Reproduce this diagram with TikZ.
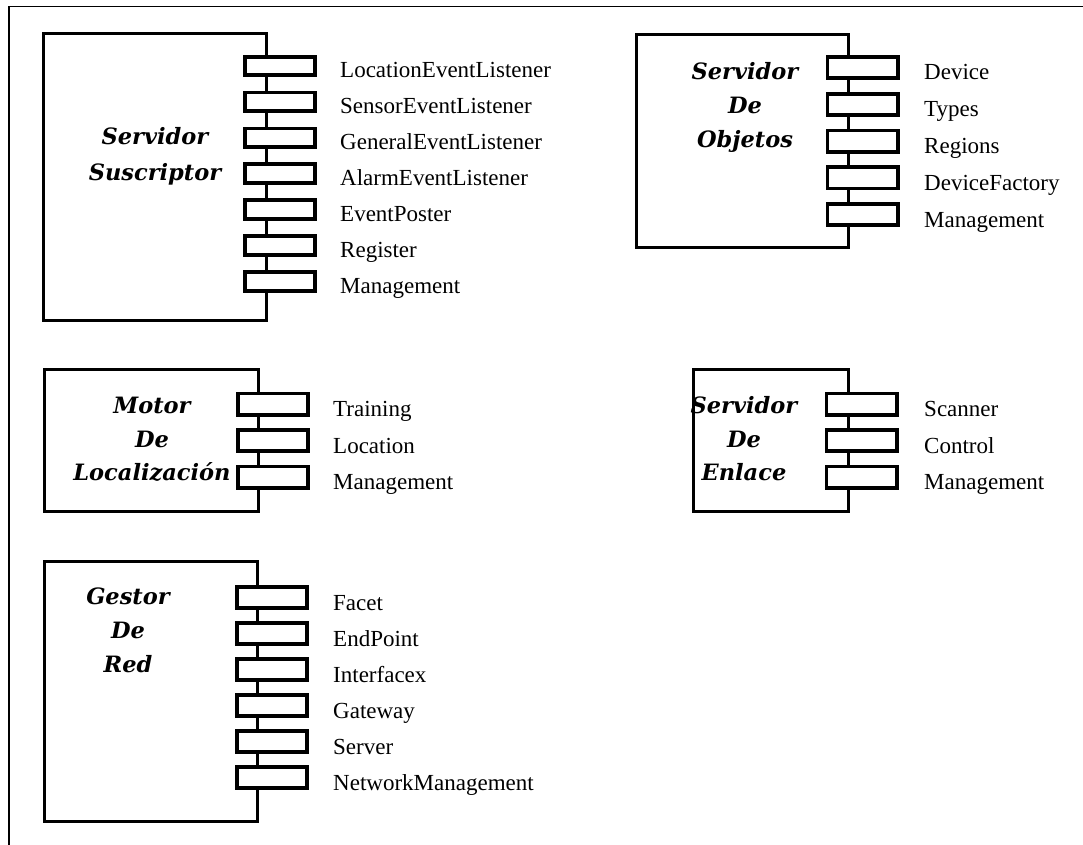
\documentclass[tikz,border=0pt]{standalone}
\usepackage{fontspec}
\setmainfont{Liberation Serif}
\newfontfamily\headfont{DejaVu Serif}
\tikzset{
  frameline/.style={line width=1.8pt},
  compbox/.style={draw, line width=3.8pt, inner sep=0pt},
  port/.style={draw, fill=white, line width=3.8pt, inner sep=0pt,
               minimum width=70.2pt, minimum height=#1},
  port/.default=21.2pt,
  lbl/.style={anchor=base west, inner sep=0pt, font=\fontsize{23}{23}\selectfont},
  ttl/.style={anchor=base, inner sep=0pt,
              font=\headfont\bfseries\itshape\fontsize{22.5}{22.5}\selectfont}
}
\begin{document}
\begin{tikzpicture}[x=1pt,y=-1pt]
\useasboundingbox (0,0) rectangle (1083,845);

% frame
\coordinate (fr-tr) at (1083,6.5);
\coordinate (fr-tl) at (9,6.5);
\coordinate (fr-bl) at (9,845);
\draw[frameline] (fr-tr) -- (fr-tl) -- (fr-bl);

% Servidor Suscriptor
\node[compbox, minimum width=223pt, minimum height=287pt] (ss) at (155,177) {};
\node[ttl] (ss-t1) at (155,145) {Servidor};
\node[ttl] (ss-t2) at (155,180) {Suscriptor};
\foreach \txt [count=\i] in {LocationEventListener, SensorEventListener,
    GeneralEventListener, AlarmEventListener, EventPoster, Register, Management}{
  \node[port=18.7pt] (ss-p\i) at (280,{30.1+35.9*\i}) {};
  \node[lbl] (ss-l\i) at (340,{42.1+35.9*\i}) {\txt};
}

% Servidor De Objetos
\node[compbox, minimum width=212pt, minimum height=213pt] (so) at (742.5,141) {};
\node[ttl] (so-t1) at (745,80) {Servidor};
\node[ttl] (so-t2) at (745,114) {De};
\node[ttl] (so-t3) at (745,148) {Objetos};
\foreach \txt [count=\i] in {Device, Types, Regions, DeviceFactory, Management}{
  \node[port] (so-p\i) at (862.5,{30.7+36.8*\i}) {};
  \node[lbl] (so-l\i) at (924,{43.2+36.8*\i}) {\txt};
}

% Motor De Localizacion
\node[compbox, minimum width=214pt, minimum height=142pt] (ml) at (151.5,440.5) {};
\node[ttl] (ml-t1) at (152,413) {Motor};
\node[ttl] (ml-t2) at (152,447) {De};
\node[ttl] (ml-t3) at (152,480) {Localización};
\foreach \txt [count=\i] in {Training, Location, Management}{
  \node[port] (ml-p\i) at (273,{367.5+36.5*\i}) {};
  \node[lbl] (ml-l\i) at (333,{380+36.5*\i}) {\txt};
}

% Servidor De Enlace
\node[compbox, minimum width=155pt, minimum height=142pt] (se) at (771,440.5) {};
\node[ttl] (se-t1) at (744,413) {Servidor};
\node[ttl] (se-t2) at (744,447) {De};
\node[ttl] (se-t3) at (744,480) {Enlace};
\foreach \txt [count=\i] in {Scanner, Control, Management}{
  \node[port] (se-p\i) at (861.5,{367.5+36.5*\i}) {};
  \node[lbl] (se-l\i) at (924,{380+36.5*\i}) {\txt};
}

% Gestor De Red
\node[compbox, minimum width=213pt, minimum height=260pt] (gr) at (151,691.5) {};
\node[ttl] (gr-t1) at (128,604) {Gestor};
\node[ttl] (gr-t2) at (128,638) {De};
\node[ttl] (gr-t3) at (128,672) {Red};
\foreach \txt [count=\i] in {Facet, EndPoint, Interfacex, Gateway, Server, NetworkManagement}{
  \node[port] (gr-p\i) at (272,{561.5+36*\i}) {};
  \node[lbl] (gr-l\i) at (333,{574+36*\i}) {\txt};
}
\end{tikzpicture}
\end{document}
